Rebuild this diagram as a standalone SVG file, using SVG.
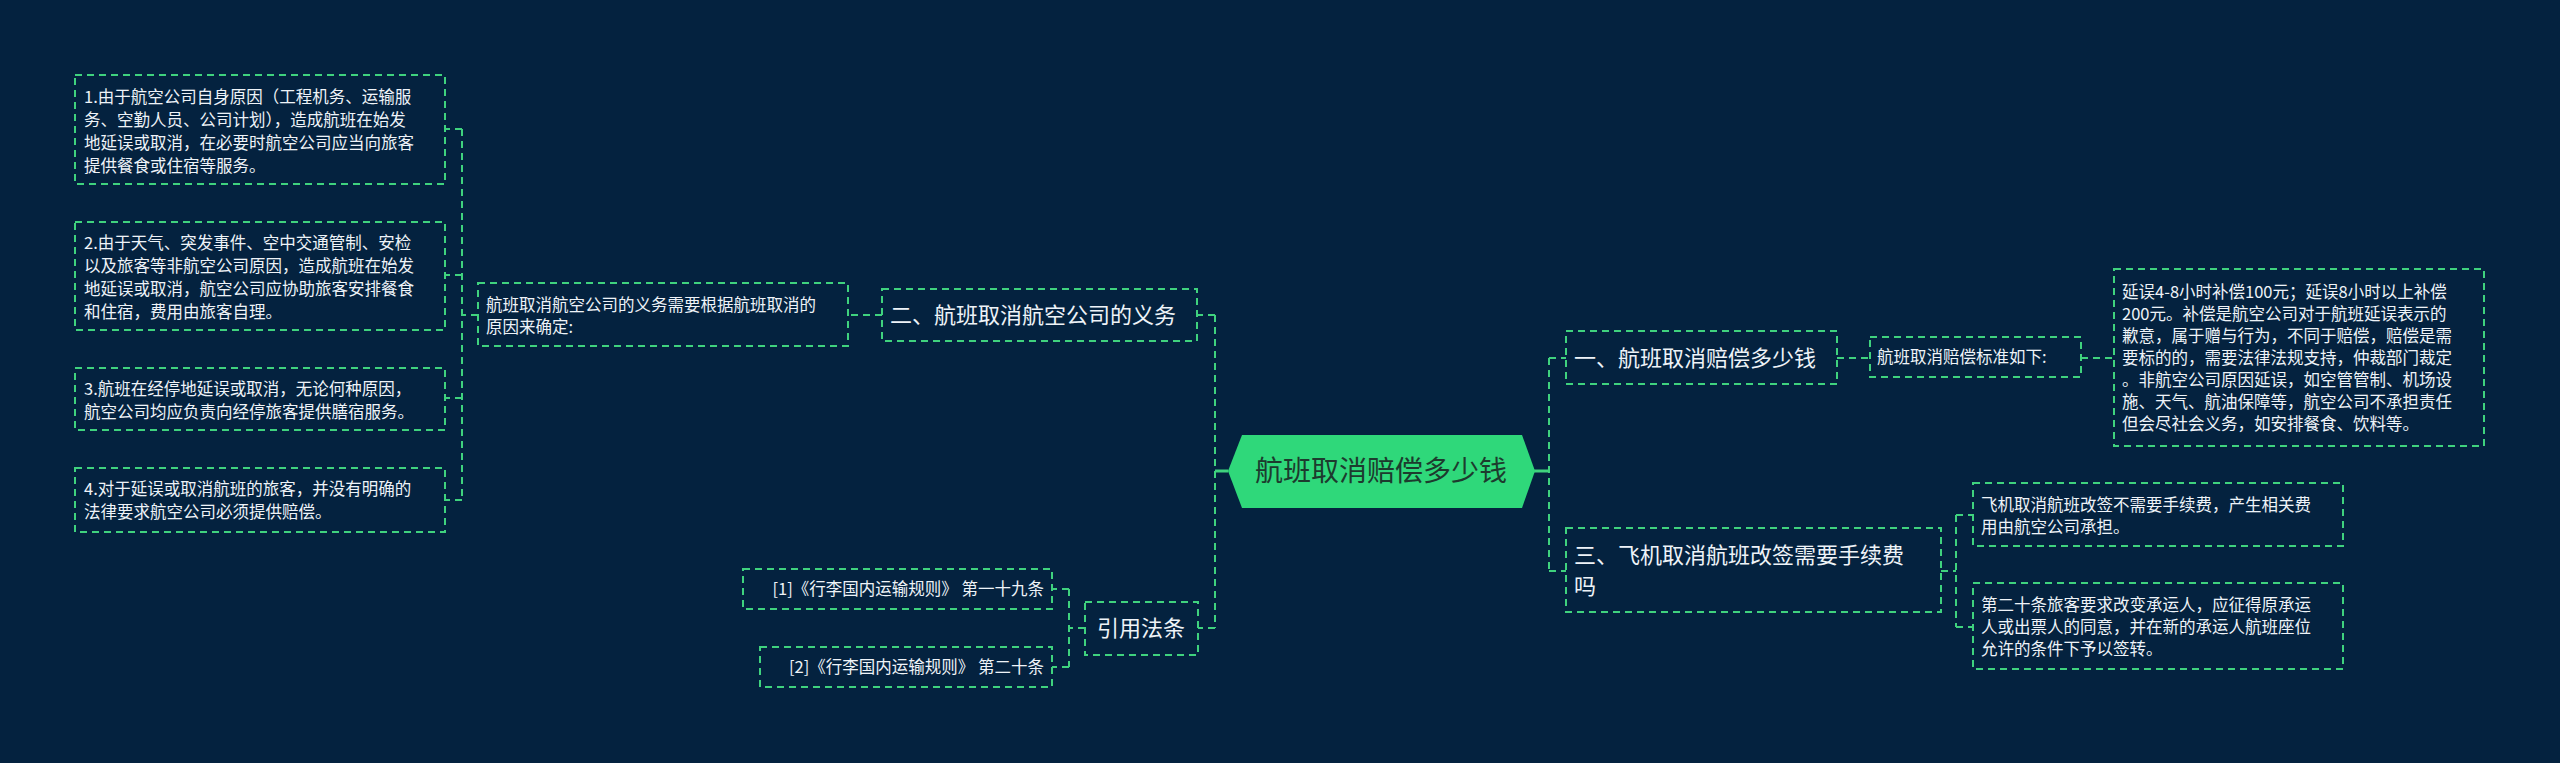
<svg xmlns="http://www.w3.org/2000/svg" width="2560" height="763" viewBox="0 0 2560 763">
<style>
.bg{fill:#04223f}
.box{fill:none;stroke:#3fd27e;stroke-width:2;stroke-dasharray:7 5}
.ln{fill:none;stroke:#3fd27e;stroke-width:2;stroke-dasharray:7 5}
text{font-family:"Noto Sans CJK SC","Liberation Sans",sans-serif;fill:#eef3f8}
.s{font-size:16.5px}
.m{font-size:22px}
.c{font-size:28px;fill:#1d3b2e}
</style>
<rect class="bg" width="2560" height="763"/>
<g id="connectors">
<path class="ln" d="M1228 471 H1215 M1215 315 V628 M1215 315 H1197 M1215 628 H1198"/>
<path class="ln" d="M1534 471 H1549 M1549 358 V571 M1549 358 H1566 M1549 571 H1566"/>
<path class="ln" d="M1837 358 H1870 M2081 358 H2114"/>
<path class="ln" d="M1941 571 H1956 M1956 515 V627 M1956 515 H1973 M1956 627 H1973"/>
<path class="ln" d="M882 315 H848"/>
<path class="ln" d="M478 315 H462 M462 129 V500 M462 129 H445 M462 275 H445 M462 398 H445 M462 500 H445"/>
<path class="ln" d="M1085 628 H1069 M1069 589 V667 M1069 589 H1052 M1069 667 H1052"/>
<path d="M1215 471 H1228 M1534 471 H1549" stroke="#3fd27e" stroke-width="3"/>
</g>
<g id="center">
<polygon points="1228,471 1242,435 1522,435 1535,471 1522,508 1242,508" fill="#2fd87a"/>
<text class="c" x="1381" y="481" text-anchor="middle">航班取消赔偿多少钱</text>
</g>
<g id="n-yi">
<rect class="box" x="1566" y="331" width="271" height="53"/>
<text class="m" x="1574" y="366">一、航班取消赔偿多少钱</text>
</g>
<g id="n-yi-a">
<rect class="box" x="1870" y="337" width="211" height="40"/>
<text class="s" x="1877" y="363">航班取消赔偿标准如下:</text>
</g>
<g id="n-yi-b">
<rect class="box" x="2114" y="269" width="370" height="177"/>
<text class="s" x="2122" y="298">延误4-8小时补偿100元；延误8小时以上补偿</text>
<text class="s" x="2122" y="320">200元。补偿是航空公司对于航班延误表示的</text>
<text class="s" x="2122" y="342">歉意，属于赠与行为，不同于赔偿，赔偿是需</text>
<text class="s" x="2122" y="364">要标的的，需要法律法规支持，仲裁部门裁定</text>
<text class="s" x="2122" y="386">。非航空公司原因延误，如空管管制、机场设</text>
<text class="s" x="2122" y="408">施、天气、航油保障等，航空公司不承担责任</text>
<text class="s" x="2122" y="430">但会尽社会义务，如安排餐食、饮料等。</text>
</g>
<g id="n-san">
<rect class="box" x="1566" y="528" width="375" height="84"/>
<text class="m" x="1574" y="563">三、飞机取消航班改签需要手续费</text>
<text class="m" x="1574" y="594">吗</text>
</g>
<g id="n-san-a">
<rect class="box" x="1973" y="483" width="370" height="63"/>
<text class="s" x="1981" y="511">飞机取消航班改签不需要手续费，产生相关费</text>
<text class="s" x="1981" y="533">用由航空公司承担。</text>
</g>
<g id="n-san-b">
<rect class="box" x="1973" y="583" width="370" height="86"/>
<text class="s" x="1981" y="611">第二十条旅客要求改变承运人，应征得原承运</text>
<text class="s" x="1981" y="633">人或出票人的同意，并在新的承运人航班座位</text>
<text class="s" x="1981" y="655">允许的条件下予以签转。</text>
</g>
<g id="n-er">
<rect class="box" x="882" y="289" width="315" height="52"/>
<text class="m" x="890" y="323">二、航班取消航空公司的义务</text>
</g>
<g id="n-er-a">
<rect class="box" x="478" y="283" width="370" height="63"/>
<text class="s" x="486" y="311">航班取消航空公司的义务需要根据航班取消的</text>
<text class="s" x="486" y="333">原因来确定:</text>
</g>
<g id="n-er-1">
<rect class="box" x="75" y="75" width="370" height="109"/>
<text class="s" x="84" y="103">1.由于航空公司自身原因（工程机务、运输服</text>
<text class="s" x="84" y="126">务、空勤人员、公司计划），造成航班在始发</text>
<text class="s" x="84" y="149">地延误或取消，在必要时航空公司应当向旅客</text>
<text class="s" x="84" y="172">提供餐食或住宿等服务。</text>
</g>
<g id="n-er-2">
<rect class="box" x="75" y="222" width="370" height="108"/>
<text class="s" x="84" y="249">2.由于天气、突发事件、空中交通管制、安检</text>
<text class="s" x="84" y="272">以及旅客等非航空公司原因，造成航班在始发</text>
<text class="s" x="84" y="295">地延误或取消，航空公司应协助旅客安排餐食</text>
<text class="s" x="84" y="318">和住宿，费用由旅客自理。</text>
</g>
<g id="n-er-3">
<rect class="box" x="75" y="368" width="370" height="62"/>
<text class="s" x="84" y="395">3.航班在经停地延误或取消，无论何种原因，</text>
<text class="s" x="84" y="418">航空公司均应负责向经停旅客提供膳宿服务。</text>
</g>
<g id="n-er-4">
<rect class="box" x="75" y="468" width="370" height="64"/>
<text class="s" x="84" y="495">4.对于延误或取消航班的旅客，并没有明确的</text>
<text class="s" x="84" y="518">法律要求航空公司必须提供赔偿。</text>
</g>
<g id="n-yin">
<rect class="box" x="1085" y="602" width="113" height="53"/>
<text class="m" x="1141" y="636" text-anchor="middle">引用法条</text>
</g>
<g id="n-yin-1">
<rect class="box" x="743" y="569" width="309" height="40"/>
<text class="s" x="1044" y="595" text-anchor="end">[1]《行李国内运输规则》 第一十九条</text>
</g>
<g id="n-yin-2">
<rect class="box" x="760" y="647" width="292" height="40"/>
<text class="s" x="1044" y="673" text-anchor="end">[2]《行李国内运输规则》 第二十条</text>
</g>
</svg>
